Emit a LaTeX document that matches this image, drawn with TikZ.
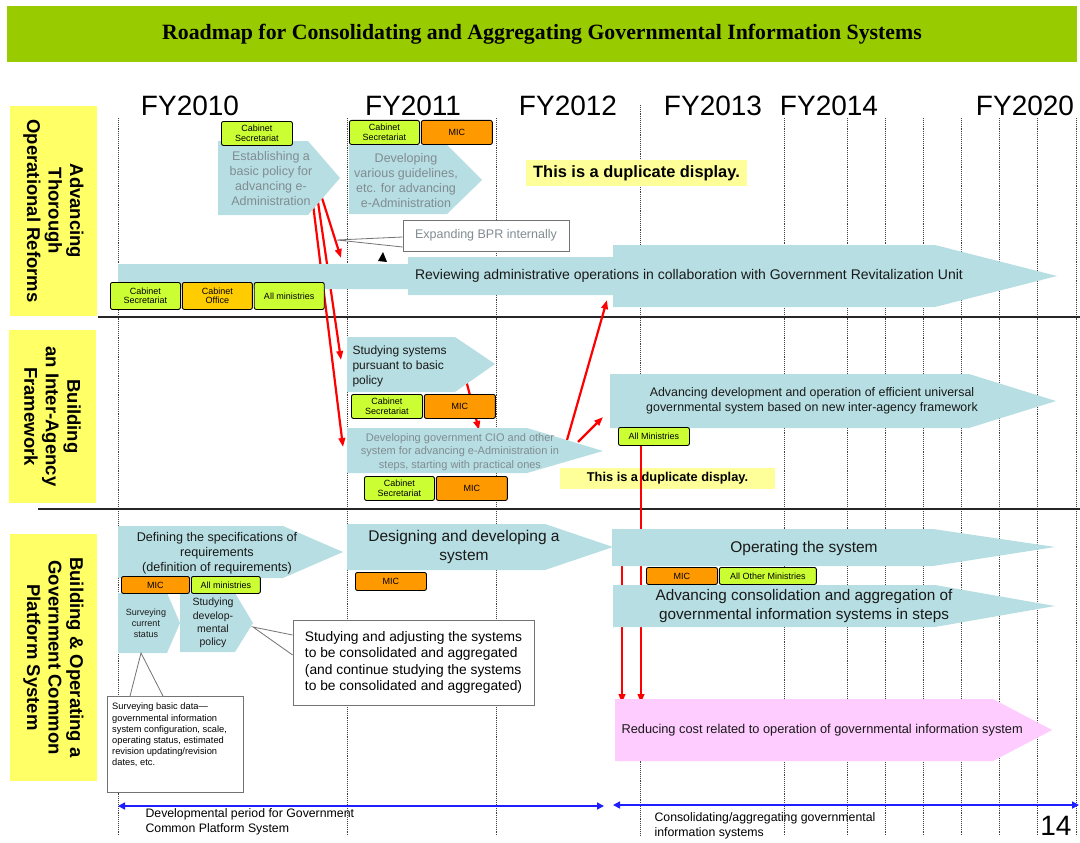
\documentclass[tikz,border=0pt]{standalone}
\usepackage{fontspec}
\setmainfont{Liberation Sans}
\newfontfamily\serifbold{Liberation Serif}
\usetikzlibrary{positioning,arrows.meta}

\definecolor{barGreen}{RGB}{153,204,0}
\definecolor{laneYellow}{RGB}{255,255,102}
\definecolor{phaseBlue}{RGB}{183,222,226}
\definecolor{tagGreen}{RGB}{204,255,51}
\definecolor{tagOrange}{RGB}{255,153,0}
\definecolor{tagGold}{RGB}{255,204,0}
\definecolor{noteYellow}{RGB}{255,255,153}
\definecolor{costPink}{RGB}{255,204,255}
\definecolor{dimText}{RGB}{128,140,146}
\definecolor{spanBlue}{RGB}{30,30,255}

\begin{document}
\begin{tikzpicture}[
x=1pt, y=-1pt,
lane/.style={
  fill=laneYellow,
  rotate=-90,
  align=center,
  inner sep=0pt,
  font=\bfseries\fontsize{18.5}{21.5}\selectfont
},
yearlbl/.style={
  anchor=base,
  font=\fontsize{28}{30}\selectfont
},
gridline/.style={densely dotted, line width=0.9pt, black!75},
sep/.style={line width=1.2pt, black!85},
phasebox/.style={fill=phaseBlue},
dimtxt/.style={
  text=dimText,
  align=center,
  font=\fontsize{12.5}{15}\selectfont
},
darktxt/.style={
  text=black!90,
  align=center,
  font=\fontsize{12.4}{15}\selectfont
},
tag/.style={
  draw,
  rounded corners=2pt,
  fill=tagGreen,
  line width=0.9pt,
  inner sep=0pt,
  anchor=north west,
  align=center,
  font=\fontsize{9}{9.5}\selectfont
},
mictag/.style={tag, fill=tagOrange},
officetag/.style={tag, fill=tagGold},
dupnote/.style={
  fill=noteYellow,
  inner sep=0pt,
  font=\bfseries\fontsize{16.4}{18}\selectfont
},
notebox/.style={draw=black!55, fill=white, line width=0.8pt},
redflow/.style={red, line width=2.2pt, -{Triangle[length=9pt,width=6.5pt]}},
spanline/.style={spanBlue, line width=1.6pt,
  {Triangle[length=7pt,width=7pt]}-{Triangle[length=7pt,width=7pt]}},
periodtxt/.style={anchor=west, align=left, font=\fontsize{12.3}{15.5}\selectfont}
]
\useasboundingbox (0,0) rectangle (1080,843);

% title bar
\node[fill=barGreen, minimum width=1070, minimum height=56,
  font=\serifbold\bfseries\fontsize{21.8}{24}\selectfont] (title) at (542,34)
  {Roadmap for Consolidating and Aggregating Governmental Information Systems};

% fiscal years
\node[yearlbl] (fy10) at (190,116) {FY2010};
\node[yearlbl] (fy11) at (413,116) {FY2011};
\node[yearlbl] (fy12) at (568,116) {FY2012};
\node[yearlbl] (fy13) at (713,116) {FY2013};
\node[yearlbl] (fy14) at (829,116) {FY2014};
\node[yearlbl] (fy20) at (1025,116) {FY2020};

% time grid
\foreach \gx in {118,347,496,784,847,885,923,961,999,1037,1076}
  \draw[gridline] (\gx,118) -- (\gx,836);
\draw[gridline] (640,105) -- (640,836);

% lane separators
\draw[sep] (98,317) -- (1080,317);
\draw[sep] (38,509) -- (1080,509);

% lanes
\node[lane, minimum width=210, minimum height=87] (laneOps) at (53.5,211)
  {Advancing\\Thorough\\Operational Reforms};
\node[lane, minimum width=173, minimum height=87] (laneAgency) at (52.5,416.5)
  {Building\\an Inter-Agency\\Framework};
\node[lane, minimum width=247, minimum height=87] (lanePlatform) at (53.5,657.5)
  {Building \& Operating a\\Government Common\\Platform System};

% duplicate notes
\node[dupnote, minimum width=221, minimum height=26] (dupOps) at (636.5,173)
  {This is a duplicate display.};
\node[dupnote, minimum width=215, minimum height=21,
  font=\bfseries\fontsize{12.8}{14}\selectfont] (dupAgency) at (667.5,478)
  {This is a duplicate display.};

% red links, phases go on top of them
\coordinate (estA) at (322,198);
\coordinate (revIn) at (341,258);
\coordinate (estB) at (318,202);
\coordinate (studyIn) at (341,360);
\coordinate (estC) at (313,204);
\coordinate (cioIn) at (343,447);
\coordinate (studyOut) at (466,380);
\coordinate (cioTop) at (479,430);
\coordinate (cioA) at (567,440);
\coordinate (revUp) at (607,300);
\coordinate (cioB) at (578,442);
\coordinate (advIn) at (603,417);
\coordinate (advOut) at (641,420);
\coordinate (costA) at (641,703);
\coordinate (opOut) at (622,550);
\coordinate (costB) at (622,703);
\draw[redflow] (estA) -- (revIn);
\draw[redflow] (estB) -- (studyIn);
\draw[redflow] (estC) -- (cioIn);
\draw[redflow] (studyOut) -- (cioTop);
\draw[redflow] (cioA) -- (revUp);
\draw[redflow] (cioB) -- (advIn);
\draw[redflow] (advOut) -- (costA);
\draw[redflow] (opOut) -- (costB);

% phase arrows
\fill[phasebox] (218,141) -- (308,141) -- (340,178) -- (308,215) -- (218,215) -- cycle;
\fill[phasebox] (349,145) -- (447,145) -- (482,180) -- (447,214) -- (349,214) -- cycle;
\fill[phasebox] (118,264) -- (408,264) -- (408,257) -- (613,257) -- (613,245)
  -- (935,245) -- (1057,276) -- (935,307) -- (613,307) -- (613,295)
  -- (408,295) -- (408,289) -- (118,289) -- cycle;
\fill[phasebox] (347,337) -- (455,337) -- (495,364) -- (455,392) -- (347,392) -- cycle;
\fill[phasebox] (347,428) -- (527,428) -- (603,451) -- (527,473) -- (347,473) -- cycle;
\fill[phasebox] (610,374) -- (969,374) -- (1056,401) -- (969,428) -- (610,428) -- cycle;
\fill[phasebox] (118,526) -- (283,526) -- (343,552) -- (283,578) -- (118,578) -- cycle;
\fill[phasebox] (118,593) -- (167,593) -- (180,623) -- (167,653) -- (118,653) -- cycle;
\fill[phasebox] (180,593) -- (235,593) -- (253,623) -- (235,652) -- (180,652) -- cycle;
\fill[phasebox] (347,524) -- (545,524) -- (613,547) -- (545,570) -- (347,570) -- cycle;
\fill[phasebox] (612,529) -- (933,529) -- (1055,547) -- (933,566) -- (612,566) -- cycle;
\fill[phasebox] (613,585) -- (935,585) -- (1055,606) -- (935,627) -- (613,627) -- cycle;
\fill[costPink] (615,699) -- (993,699) -- (1052,730) -- (993,761) -- (615,761) -- cycle;

% phase texts
\node[dimtxt] (establish) at (271,179)
  {Establishing a\\basic policy for\\advancing e-\\Administration};
\node[dimtxt] (guidelines) at (406,181)
  {Developing\\various guidelines,\\etc. for advancing\\e-Administration};
\node[darktxt, font=\fontsize{14}{15}\selectfont] (review) at (689,276)
  {Reviewing administrative operations in collaboration with Government Revitalization Unit};
\node[darktxt, anchor=west, align=left, font=\fontsize{12}{15}\selectfont] (studying) at (349,366)
  {Studying systems\\pursuant to basic\\policy};
\node[dimtxt, font=\fontsize{11}{13.5}\selectfont] (cio) at (460,452)
  {Developing government CIO and other\\system for advancing e-Administration in\\steps, starting with practical ones};
\node[darktxt] (advdev) at (812,401)
  {Advancing development and operation of efficient universal\\governmental system based on new inter-agency framework};
\node[darktxt, font=\fontsize{12.6}{15}\selectfont] (defining) at (217,553)
  {Defining the specifications of\\requirements\\(definition of requirements)};
\node[darktxt, font=\fontsize{9}{11}\selectfont] (surveying) at (146,623)
  {Surveying\\current\\status};
\node[darktxt, font=\fontsize{10.5}{13.3}\selectfont] (devpolicy) at (213,623)
  {Studying\\develop-\\mental\\policy};
\node[darktxt, font=\fontsize{15.5}{18.5}\selectfont] (designing) at (464,547)
  {Designing and developing a\\system};
\node[darktxt, font=\fontsize{15.5}{17}\selectfont] (operating) at (804,548)
  {Operating the system};
\node[darktxt, font=\fontsize{15.3}{19}\selectfont] (steps) at (804,606)
  {Advancing consolidation and aggregation of\\governmental information systems in steps};
\node[darktxt, anchor=west, font=\fontsize{12.8}{15}\selectfont] (cost) at (618,730)
  {Reducing cost related to operation of governmental information system};

% responsible bodies
\node[tag, minimum width=71, minimum height=24] (csEst) at (221,121) {Cabinet\\Secretariat};
\node[tag, minimum width=70, minimum height=24] (csGuide) at (349,120) {Cabinet\\Secretariat};
\node[mictag, minimum width=71, minimum height=24, right=1pt of csGuide] (micGuide) {MIC};
\node[tag, minimum width=70, minimum height=27] (csReview) at (110,282) {Cabinet\\Secretariat};
\node[officetag, minimum width=70, minimum height=27, right=1pt of csReview] (coReview) {Cabinet\\Office};
\node[tag, minimum width=70, minimum height=27, right=1pt of coReview] (allReview) {All ministries};
\node[tag, minimum width=71, minimum height=24] (csStudy) at (351,394) {Cabinet\\Secretariat};
\node[mictag, minimum width=71, minimum height=24, right=1pt of csStudy] (micStudy) {MIC};
\node[tag, minimum width=70, minimum height=24] (csCio) at (364,476) {Cabinet\\Secretariat};
\node[mictag, minimum width=71, minimum height=24, right=1pt of csCio] (micCio) {MIC};
\node[tag, minimum width=71, minimum height=18] (allAdv) at (618,427) {All Ministries};
\node[mictag, minimum width=68, minimum height=17] (micDef) at (121,576) {MIC};
\node[tag, minimum width=69, minimum height=17, right=1pt of micDef] (allDef) {All ministries};
\node[mictag, minimum width=71, minimum height=18] (micDesign) at (355,572) {MIC};
\node[mictag, minimum width=71, minimum height=17] (micOp) at (646,567) {MIC};
\node[tag, minimum width=97, minimum height=17, right=1pt of micOp] (allOther) {All Other Ministries};

% callouts
\coordinate (bprTip) at (337,240);
\node[notebox, minimum width=166, minimum height=31, text=dimText,
  font=\fontsize{12.5}{15}\selectfont] (bpr) at (486,235.5) {Expanding BPR internally};
\filldraw[notebox] ([yshift=-1.5]bpr.west) -- (bprTip) -- ([yshift=-11.5]bpr.west);
\fill (378,261) -- (383,252) -- (387,262) -- cycle;

\coordinate (adjTip) at (253,627);
\node[notebox, minimum width=241, minimum height=85, align=left,
  font=\fontsize{13.8}{16.5}\selectfont] (adjust) at (413.5,662.5)
  {Studying and adjusting the systems\\to be consolidated and aggregated\\(and continue studying the systems\\to be consolidated and aggregated)};
\filldraw[notebox] ([yshift=27.5]adjust.west) -- (adjTip) -- ([yshift=7.5]adjust.west);

\coordinate (basicTip) at (141,653);
\node[notebox, minimum width=136, minimum height=96] (basicdata) at (175,744.5) {};
\filldraw[notebox] ([xshift=-45]basicdata.north) -- (basicTip) -- ([xshift=-12]basicdata.north);
\node[anchor=north west, align=left, inner sep=0pt,
  font=\fontsize{9.3}{11.2}\selectfont] (basictxt) at (112,703)
  {Surveying basic data—\\governmental information\\system configuration, scale,\\operating status, estimated\\revision updating/revision\\dates, etc.};

% periods
\coordinate (devFrom) at (118,806);
\coordinate (devTo) at (604,806);
\coordinate (conFrom) at (613,805);
\coordinate (conTo) at (1079,805);
\draw[spanline] (devFrom) -- (devTo);
\draw[spanline] (conFrom) -- (conTo);
\node[periodtxt] (devPeriod) at (142,822) {Developmental period for Government\\Common Platform System};
\node[periodtxt] (conPeriod) at (651,826) {Consolidating/aggregating governmental\\information systems};
\node[anchor=base east, font=\fontsize{28}{30}\selectfont] (pageno) at (1075,835) {14};
\end{tikzpicture}
\end{document}
